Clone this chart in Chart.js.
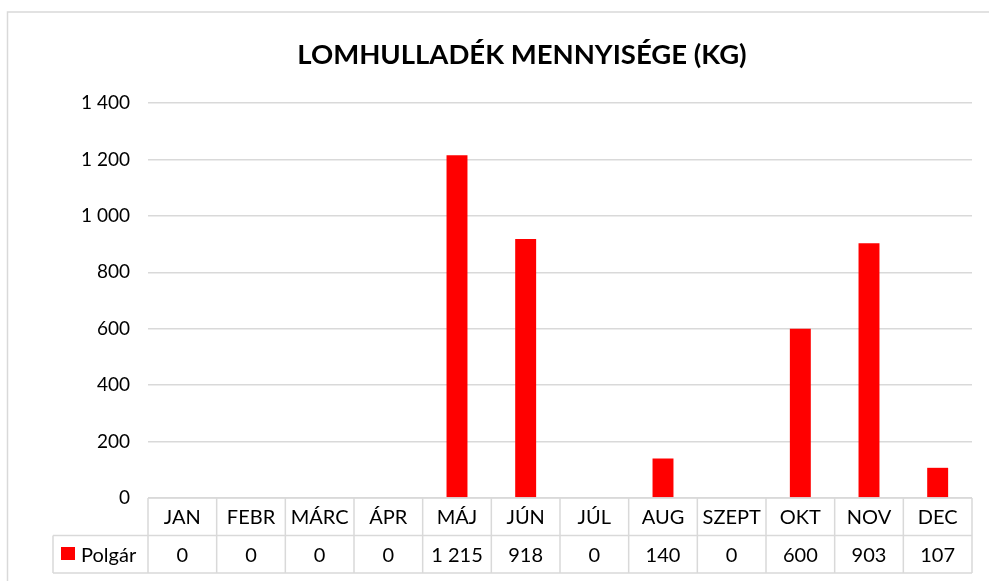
<!DOCTYPE html>
<html>
<head>
<meta charset="utf-8">
<script src="https://cdn.jsdelivr.net/npm/chart.js@4/dist/chart.umd.min.js"></script>
<style>
html,body{margin:0;padding:0;background:#fff;}
#wrap{width:989px;height:581px;position:relative;}
</style>
</head>
<body>
<div id="wrap"><canvas id="c" width="989" height="581"></canvas></div>
<script>
const chartTitle = 'LOMHULLADÉK MENNYISÉGE (KG)';
const categories = ['JAN','FEBR','MÁRC','ÁPR','MÁJ','JÚN','JÚL','AUG','SZEPT','OKT','NOV','DEC'];
const seriesName = 'Polgár';
const polgarValues = [0,0,0,0,1215,918,0,140,0,600,903,107];
const yTicks = [0,200,400,600,800,1000,1200,1400];

const FONT = 'Lato, "Open Sans", sans-serif';
const GRID = '#d9d9d9';
const RED = '#ff0000';

function fmt(v){ return String(v).replace(/\B(?=(\d{3})+(?!\d))/g, ' '); }

const ROW_H = 37.5;

const decor = {
  id: 'decor',
  beforeDraw(chart){
    const ctx = chart.ctx;
    ctx.save();
    ctx.fillStyle = '#fff';
    ctx.fillRect(0,0,chart.width,chart.height);
    ctx.strokeStyle = GRID;
    ctx.lineWidth = 1.5;
    ctx.strokeRect(7.5,12,1100,700);
    ctx.restore();
  },
  afterDraw(chart){
    const ctx = chart.ctx;
    const a = chart.chartArea;
    const xs = chart.scales.x;
    const n = categories.length;
    const w = (a.right - a.left)/n;
    const top = a.bottom;
    const mid = top + ROW_H;
    const bot = mid + ROW_H;
    const legLeft = 53;
    ctx.save();
    // title
    ctx.fillStyle = '#000';
    ctx.font = 'bold 27.5px ' + FONT;
    ctx.textAlign = 'center';
    ctx.textBaseline = 'middle';
    ctx.fillText(chartTitle, 522, 55);
    // table lines
    ctx.strokeStyle = GRID;
    ctx.lineWidth = 1.5;
    ctx.beginPath();
    ctx.moveTo(a.left, top); ctx.lineTo(a.right, top);
    ctx.moveTo(legLeft, mid); ctx.lineTo(a.right, mid);
    ctx.moveTo(legLeft, bot); ctx.lineTo(a.right, bot);
    for (let i=0;i<=n;i++){
      const x = a.left + i*w;
      ctx.moveTo(x, top); ctx.lineTo(x, bot);
    }
    ctx.moveTo(legLeft, mid); ctx.lineTo(legLeft, bot);
    ctx.stroke();
    // header + values
    ctx.fillStyle = '#000';
    ctx.font = '20px ' + FONT;
    ctx.textAlign = 'center';
    ctx.textBaseline = 'middle';
    categories.forEach((c,i)=>{
      const x = xs.getPixelForValue(i);
      ctx.fillText(c, x, top + ROW_H/2 + 1);
      ctx.fillText(fmt(polgarValues[i]), x, mid + ROW_H/2 + 1);
    });
    // legend key
    ctx.fillStyle = RED;
    ctx.fillRect(61, mid + 11.5, 14, 13);
    ctx.fillStyle = '#000';
    ctx.textAlign = 'left';
    ctx.fillText(seriesName, 81, mid + ROW_H/2 + 1);
    ctx.restore();
  }
};

new Chart(document.getElementById('c'), {
  type: 'bar',
  data: {
    labels: categories,
    datasets: [{
      label: seriesName,
      data: polgarValues,
      backgroundColor: RED,
      borderWidth: 0,
      categoryPercentage: 1,
      barPercentage: 0.305
    }]
  },
  options: {
    responsive: false,
    animation: false,
    devicePixelRatio: 1,
    layout: { padding: { left: 0, right: 17, top: 103, bottom: 83 } },
    plugins: { legend: { display: false }, title: { display: false }, tooltip: { enabled: false } },
    scales: {
      x: { display: false },
      y: {
        min: 0, max: 1400,
        afterFit(s){ s.width = 148; },
        afterBuildTicks(s){ s.ticks = yTicks.map(v=>({value:v})); },
        grid: { color: GRID, lineWidth: 1.5, drawTicks: false },
        border: { display: false },
        ticks: {
          padding: 18,
          color: '#000',
          font: { family: FONT, size: 19 },
          callback: v => fmt(v)
        }
      }
    }
  },
  plugins: [decor]
});
</script>
</body>
</html>
